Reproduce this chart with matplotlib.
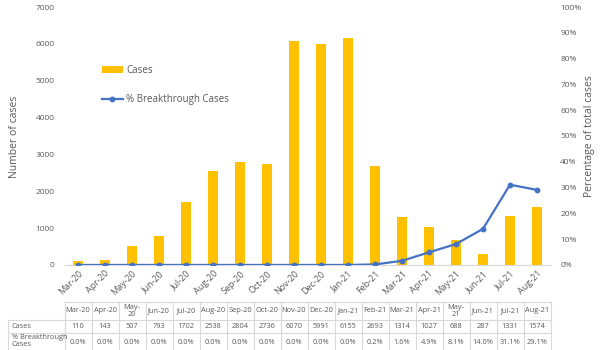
import matplotlib
matplotlib.use('Agg')
import matplotlib.pyplot as plt
from matplotlib.lines import Line2D
from matplotlib.transforms import blended_transform_factory
from matplotlib.ticker import FuncFormatter

plt.rcParams['font.family'] = ['Open Sans', 'DejaVu Sans']

# ---------------- data ----------------
months = ['Mar-20', 'Apr-20', 'May-20', 'Jun-20', 'Jul-20', 'Aug-20', 'Sep-20', 'Oct-20',
          'Nov-20', 'Dec-20', 'Jan-21', 'Feb-21', 'Mar-21', 'Apr-21', 'May-21', 'Jun-21',
          'Jul-21', 'Aug-21']
cases = [110, 143, 507, 793, 1702, 2538, 2804, 2736, 6070, 5991, 6155, 2693, 1314, 1027,
         688, 287, 1331, 1574]
breakthrough_pct = [0.0, 0.0, 0.0, 0.0, 0.0, 0.0, 0.0, 0.0, 0.0, 0.0, 0.0, 0.2, 1.6, 4.9,
                    8.1, 14.0, 31.1, 29.1]

bar_color = '#FFC000'
line_color = '#4472C4'
txt_color = '#595959'
grid_color = '#D9D9D9'

fig = plt.figure(figsize=(6, 3.5), dpi=100)
ax = fig.add_axes([0.1075, 0.243, 0.81, 0.737])
ax2 = ax.twinx()

x = list(range(len(months)))
bars = ax.bar(x, cases, width=0.4, color=bar_color, label='Cases', zorder=2)
ln, = ax2.plot(x, breakthrough_pct, color=line_color, lw=1.6, marker='o', ms=3.2,
               label='% Breakthrough Cases', zorder=3)

ax.set_xlim(-0.5, len(months) - 0.5)
ax.set_ylim(0, 7000)
ax2.set_ylim(0, 100)
ax.set_yticks(range(0, 7001, 1000))
ax2.set_yticks(range(0, 101, 10))
ax2.yaxis.set_major_formatter(FuncFormatter(lambda v, p: '%d%%' % v))

ax.set_xticks(x)
ax.set_xticklabels(months, rotation=45, ha='right', rotation_mode='anchor',
                   fontsize=6.5, color=txt_color)
for a in (ax, ax2):
    for s in a.spines.values():
        s.set_visible(False)
    a.tick_params(length=0, labelsize=6, labelcolor=txt_color)
ax.spines['bottom'].set_visible(True)
ax.spines['bottom'].set_color(grid_color)
ax.tick_params(axis='x', pad=3, labelsize=6.5)
ax.tick_params(axis='y', pad=7)
ax2.tick_params(axis='y', pad=7)

fig.text(0.025, 0.61, 'Number of cases', rotation=90, ha='center', va='center',
         fontsize=7.5, color=txt_color)
fig.text(0.983, 0.61, 'Percentage of total cases', rotation=90, ha='center', va='center',
         fontsize=7.5, color=txt_color)

ax2.legend([bars, ln], ['Cases', '% Breakthrough Cases'], loc='upper left',
           bbox_to_anchor=(0.155, 0.84), bbox_transform=fig.transFigure, frameon=False,
           fontsize=7, labelspacing=1.9, handlelength=2.2, handletextpad=0.3,
           labelcolor=txt_color)

# ---------------- data table ----------------
tr = blended_transform_factory(ax.transData, fig.transFigure)
y_top, y_h, y_c, y_bot = 1 - 302 / 350, 1 - 320 / 350, 1 - 333 / 350, -0.01
x0, x1 = -0.5, len(months) - 0.5
lbl_left = 8 / 600

def hline(xa, xb, y, transform):
    fig.add_artist(Line2D([xa, xb], [y, y], transform=transform, color=grid_color, lw=0.8))

def vline(xx, ya, yb, transform):
    fig.add_artist(Line2D([xx, xx], [ya, yb], transform=transform, color=grid_color, lw=0.8))

hline(x0, x1, y_top, tr)
for yy in (y_h, y_c):
    hline(x0, x1, yy, tr)
    hline(lbl_left, 0.1075, yy, fig.transFigure)
for i in range(len(months) + 1):
    vline(i - 0.5, y_top, y_bot, tr)
vline(lbl_left, y_h, y_bot, fig.transFigure)

for i, m in enumerate(months):
    lab = m.replace('-', '-\n') if m.startswith('May') else m
    fig.text(i, (y_top + y_h) / 2, lab, transform=tr, ha='center', va='center',
             fontsize=5.3, color=txt_color, linespacing=1.0)
    fig.text(i, (y_h + y_c) / 2, str(cases[i]), transform=tr, ha='center', va='center',
             fontsize=5.3, color=txt_color)
    fig.text(i, 1 - 342 / 350, '%.1f%%' % breakthrough_pct[i], transform=tr, ha='center',
             va='center', fontsize=5.3, color=txt_color)

fig.text(12 / 600, (y_h + y_c) / 2, 'Cases', ha='left', va='center', fontsize=5.3,
         color=txt_color)
fig.text(12 / 600, 1 - 341 / 350, '% Breakthrough\nCases', ha='left', va='center',
         fontsize=5.3, color=txt_color, linespacing=1.0)

fig.savefig('out.png', dpi=100)
